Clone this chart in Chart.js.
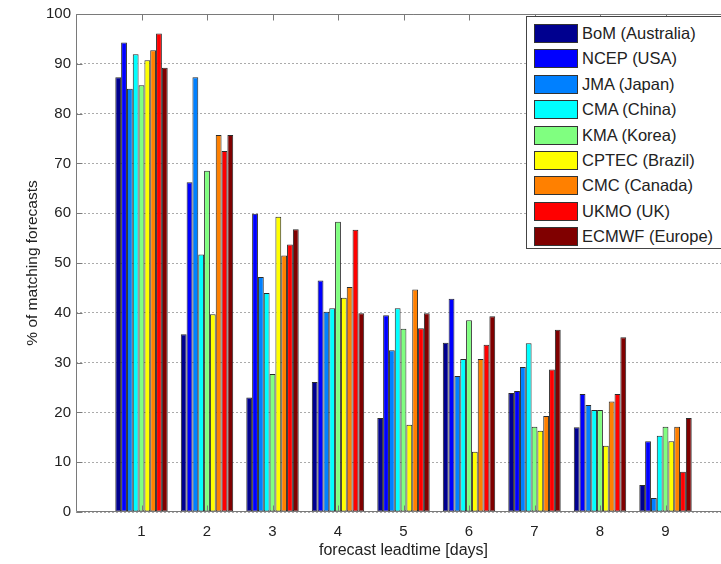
<!DOCTYPE html>
<html>
<head>
<meta charset="utf-8">
<script src="https://cdn.jsdelivr.net/npm/chart.js@4/dist/chart.umd.min.js"></script>
<style>
  html, body { margin: 0; padding: 0; background: #fff; overflow: hidden; }
  #wrap { position: relative; width: 721px; height: 564px; overflow: hidden; }
  #c { position: absolute; left: 0; top: 0; }
  #legend { position: absolute; left: 526px; top: 16px; width: 205px; height: 233px;
            border: 1px solid #444; background: #fff; box-sizing: border-box;
            font-family: "Liberation Sans", Arial, sans-serif; font-size: 16.5px; color: #222; }
  .item { position: absolute; left: 7px; height: 19px; }
  .sw { position: absolute; left: 0; top: 0; width: 42px; height: 17px; border: 1px solid #333; }
  .lb { position: absolute; left: 48px; top: 0; line-height: 19px; white-space: nowrap; }
</style>
</head>
<body>
<div id="wrap">
  <canvas id="c" width="800" height="564"></canvas>
  <div id="legend"></div>
</div>
<script>
// ---- data ----
const days = [1, 2, 3, 4, 5, 6, 7, 8, 9];
const centres = ["BoM (Australia)", "NCEP (USA)", "JMA (Japan)", "CMA (China)", "KMA (Korea)",
                 "CPTEC (Brazil)", "CMC (Canada)", "UKMO (UK)", "ECMWF (Europe)"];
const bom   = [87.3, 35.7, 23.0, 26.1, 18.9, 34.0, 23.9, 17.0, 5.4];
const ncep  = [94.3, 66.2, 59.9, 46.5, 39.5, 42.8, 24.3, 23.7, 14.2];
const jma   = [85.0, 87.3, 47.2, 40.2, 32.5, 27.3, 29.1, 21.5, 2.8];
const cma   = [91.9, 51.7, 44.0, 40.9, 40.9, 30.7, 33.9, 20.5, 15.3];
const kma   = [85.7, 68.5, 27.7, 58.3, 36.8, 38.5, 17.1, 20.5, 17.1];
const cptec = [90.7, 39.7, 59.3, 43.0, 17.5, 12.1, 16.3, 13.3, 14.2];
const cmc   = [92.7, 75.7, 51.5, 45.2, 44.7, 30.7, 19.3, 22.2, 17.1];
const ukmo  = [96.1, 72.5, 53.7, 56.7, 36.9, 33.6, 28.6, 23.7, 8.1];
const ecmwf = [89.2, 75.7, 56.8, 39.9, 39.9, 39.3, 36.6, 35.1, 18.9];
const yTicks = [0, 10, 20, 30, 40, 50, 60, 70, 80, 90, 100];

const series = [bom, ncep, jma, cma, kma, cptec, cmc, ukmo, ecmwf];
const colors = ["#00008f", "#0000ff", "#0080ff", "#00ffff", "#80ff80",
                "#ffff00", "#ff8000", "#ff0000", "#800000"];

const FONT = "'Liberation Sans', Arial, Helvetica, sans-serif";

const datasets = series.map((vals, k) => ({
  label: centres[k],
  data: vals.map((v, i) => ({ x: days[i], y: v })),
  backgroundColor: colors[k],
  borderColor: "#2a2a2a",
  borderWidth: 1,
  borderSkipped: false,
  barPercentage: 1.0,
  categoryPercentage: 0.8
}));

// frame (left, top, bottom) with inward tick marks, MATLAB style; right side lies outside the picture
const framePlugin = {
  id: "frame",
  afterDatasetsDraw(chart) {
    const { ctx, chartArea: a, scales } = chart;
    ctx.save();
    ctx.strokeStyle = "#7a7a7a";
    ctx.lineWidth = 1;
    ctx.setLineDash([]);
    const L = Math.round(a.left) + 0.5, R = Math.round(a.right) + 20;
    const T = Math.round(a.top) + 0.5, B = Math.round(a.bottom) - 0.5;
    ctx.beginPath();
    ctx.moveTo(R, T); ctx.lineTo(L, T); ctx.lineTo(L, B); ctx.lineTo(R, B);
    const tl = 6;
    yTicks.forEach(v => {
      const y = Math.round(scales.y.getPixelForValue(v)) + 0.5;
      ctx.moveTo(L, y); ctx.lineTo(L + tl, y);
    });
    days.forEach(d => {
      const x = Math.round(scales.x.getPixelForValue(d)) + 0.5;
      ctx.moveTo(x, B); ctx.lineTo(x, B - tl);
      ctx.moveTo(x, T); ctx.lineTo(x, T + tl);
    });
    ctx.stroke();
    ctx.restore();
  }
};

new Chart(document.getElementById("c"), {
  type: "bar",
  data: { datasets },
  options: {
    responsive: false,
    animation: false,
    devicePixelRatio: 1,
    layout: { padding: { top: 12, right: 69, left: 0, bottom: 0 } },
    plugins: { legend: { display: false }, tooltip: { enabled: false } },
    scales: {
      x: {
        type: "linear",
        min: 0, max: 10,
        offset: false,
        grid: { display: false, offset: false, drawTicks: false },
        border: { display: false },
        afterFit: s => { s.height = 52; },
        afterBuildTicks: s => { s.ticks = [0].concat(days).concat([10]).map(v => ({ value: v })); },
        ticks: {
          autoSkip: false, maxRotation: 0, padding: 11,
          color: "#222", font: { family: FONT, size: 15 },
          callback: v => (days.includes(v) ? String(v) : "")
        },
        title: {
          display: true, text: "forecast leadtime [days]",
          color: "#222", font: { family: FONT, size: 16 },
          padding: { top: 0, bottom: 4 }
        }
      },
      y: {
        min: 0, max: 100,
        afterFit: s => { s.width = 76; },
        afterBuildTicks: s => { s.ticks = yTicks.map(v => ({ value: v })); },
        grid: { color: "#ababab", drawTicks: false, lineWidth: 1 },
        border: { display: false, dash: [2, 2] },
        ticks: { padding: 5, color: "#222", font: { family: FONT, size: 15 } },
        title: {
          display: true, text: "% of matching forecasts",
          color: "#222", font: { family: FONT, size: 15.5 },
          padding: { top: 23, bottom: 0 }
        }
      }
    }
  },
  plugins: [framePlugin]
});

// legend built from the same arrays
const leg = document.getElementById("legend");
centres.forEach((name, k) => {
  const it = document.createElement("div");
  it.className = "item";
  it.style.top = (7 + k * 25.4) + "px";
  const sw = document.createElement("div");
  sw.className = "sw";
  sw.style.background = colors[k];
  const lb = document.createElement("div");
  lb.className = "lb";
  lb.textContent = name;
  it.appendChild(sw); it.appendChild(lb);
  leg.appendChild(it);
});
</script>
</body>
</html>
